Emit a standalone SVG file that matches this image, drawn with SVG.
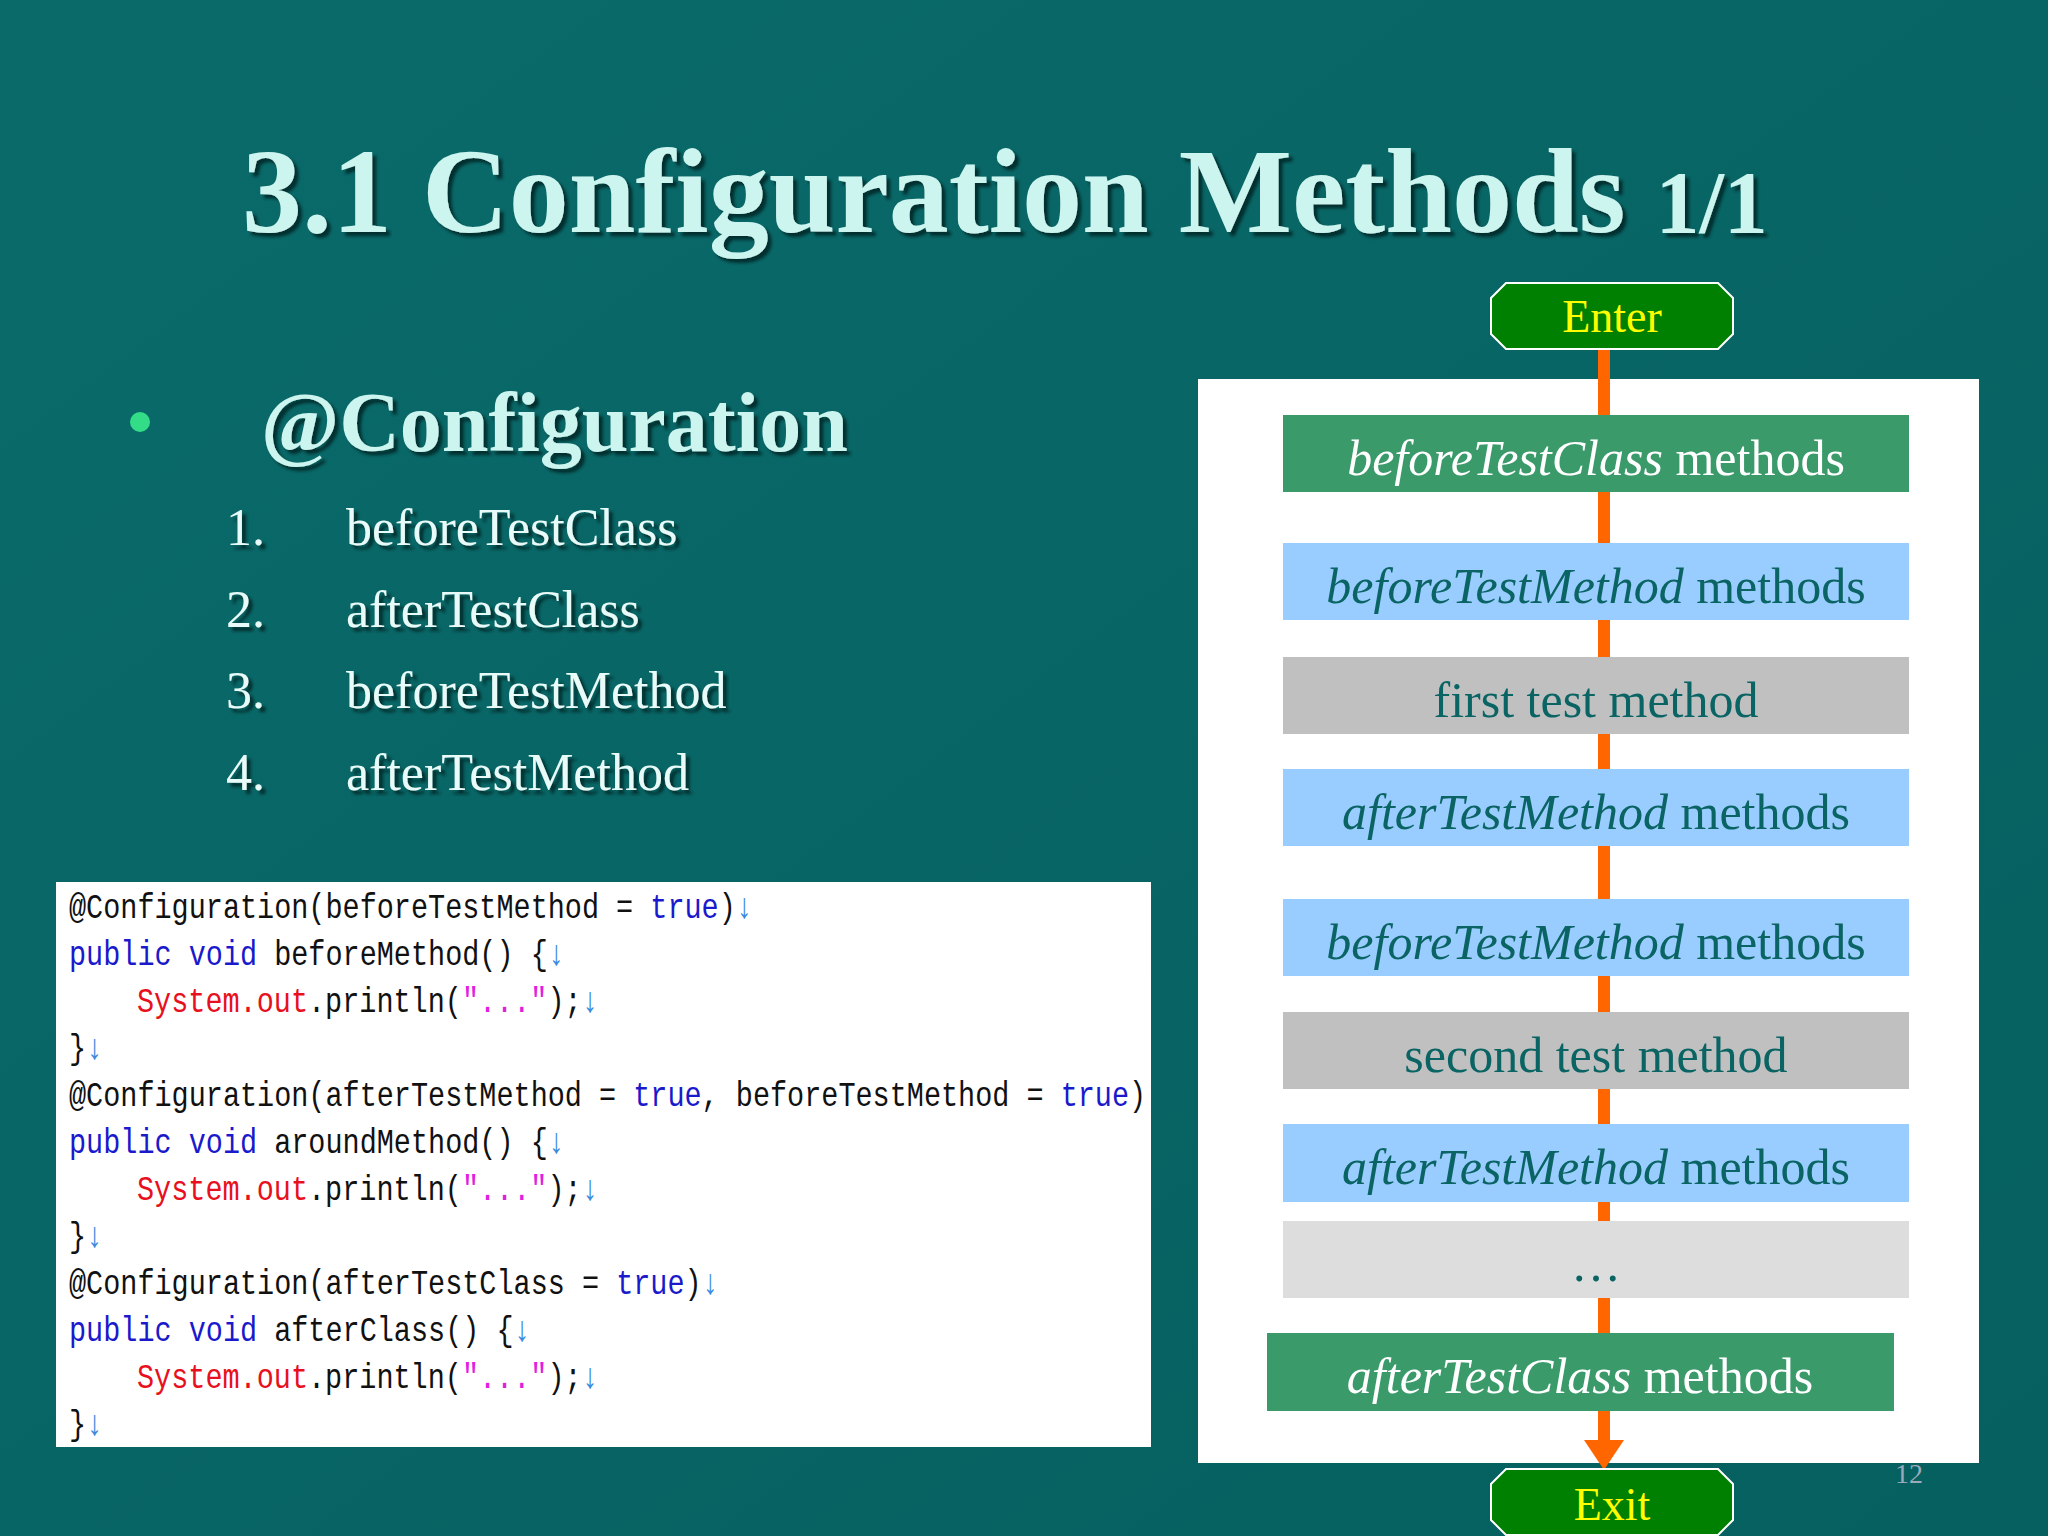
<svg xmlns="http://www.w3.org/2000/svg" width="2048" height="1536" viewBox="0 0 2048 1536">
<defs>
<linearGradient id="bg" x1="0" y1="0" x2="1" y2="1"><stop offset="0" stop-color="#0a6a6a"/><stop offset="1" stop-color="#05605f"/></linearGradient>
<filter id="sh"><feDropShadow dx="4" dy="4" stdDeviation="1.5" flood-color="#022" flood-opacity="0.8"/></filter>
</defs>
<style>
.t{font-family:"Liberation Serif",serif;fill:#cdf5f0}
.li{font-family:"Liberation Serif",serif;font-size:52px;fill:#e8fbf8}
.code{font-family:"Liberation Mono",monospace;font-size:28.5px;fill:#111}
.kw{fill:#1a1acc}.red{fill:#e81020}.mg{fill:#e020e0}.ar{fill:#3a8ae0}
.bx{font-family:"Liberation Serif",serif;font-size:50px;fill:#0b6464;text-anchor:middle}
.wt{fill:#ffffff}
.term{fill:#008000;stroke:#ffffff;stroke-width:2}
.tt{font-family:"Liberation Serif",serif;font-size:46px;fill:#ffff00;text-anchor:middle}
</style>
<rect width="2048" height="1536" fill="url(#bg)"/>
<text class="t" x="242" y="232" font-size="120" font-weight="bold" filter="url(#sh)">3.1 Configuration Methods <tspan font-size="88">1/1</tspan></text>
<circle cx="140" cy="422" r="10" fill="#33dd88"/>
<text class="t" x="261" y="451" font-size="84" font-weight="bold" filter="url(#sh)">@Configuration</text>
<g class="li" filter="url(#sh)">
<text x="226" y="545">1.</text><text x="346" y="545">beforeTestClass</text>
<text x="226" y="627">2.</text><text x="346" y="627">afterTestClass</text>
<text x="226" y="708">3.</text><text x="346" y="708">beforeTestMethod</text>
<text x="226" y="790">4.</text><text x="346" y="790">afterTestMethod</text>
</g>
<g id="code">
<rect x="56" y="882" width="1095" height="565" fill="#ffffff"/>
<text class="code" transform="translate(69,918) scale(1,1.25)">@Configuration(beforeTestMethod = <tspan class="kw">true</tspan>)<tspan class="ar">↓</tspan></text>
<text class="code" transform="translate(69,965) scale(1,1.25)"><tspan class="kw">public void</tspan> beforeMethod() {<tspan class="ar">↓</tspan></text>
<text class="code" transform="translate(137,1012) scale(1,1.25)"><tspan class="red">System.out</tspan>.println(<tspan class="mg">"..."</tspan>);<tspan class="ar">↓</tspan></text>
<text class="code" transform="translate(69,1059) scale(1,1.25)">}<tspan class="ar">↓</tspan></text>
<text class="code" transform="translate(69,1106) scale(1,1.25)">@Configuration(afterTestMethod = <tspan class="kw">true</tspan>, beforeTestMethod = <tspan class="kw">true</tspan>)</text>
<text class="code" transform="translate(69,1153) scale(1,1.25)"><tspan class="kw">public void</tspan> aroundMethod() {<tspan class="ar">↓</tspan></text>
<text class="code" transform="translate(137,1200) scale(1,1.25)"><tspan class="red">System.out</tspan>.println(<tspan class="mg">"..."</tspan>);<tspan class="ar">↓</tspan></text>
<text class="code" transform="translate(69,1247) scale(1,1.25)">}<tspan class="ar">↓</tspan></text>
<text class="code" transform="translate(69,1294) scale(1,1.25)">@Configuration(afterTestClass = <tspan class="kw">true</tspan>)<tspan class="ar">↓</tspan></text>
<text class="code" transform="translate(69,1341) scale(1,1.25)"><tspan class="kw">public void</tspan> afterClass() {<tspan class="ar">↓</tspan></text>
<text class="code" transform="translate(137,1388) scale(1,1.25)"><tspan class="red">System.out</tspan>.println(<tspan class="mg">"..."</tspan>);<tspan class="ar">↓</tspan></text>
<text class="code" transform="translate(69,1435) scale(1,1.25)">}<tspan class="ar">↓</tspan></text>
</g>
<rect x="1198" y="379" width="781" height="1084" fill="#ffffff"/>
<g id="connectors">
<line x1="1604" y1="349" x2="1604" y2="1445" stroke="#ff6600" stroke-width="12"/>
<polygon points="1584,1440 1624,1440 1604,1470" fill="#ff6600"/>
</g>
<g id="enter"><path class="term" d="M1506,283 H1718 L1733,298 V334 L1718,349 H1506 L1491,334 V298 Z"/><text class="tt" x="1612" y="332">Enter</text></g>
<g id="n1"><rect x="1283" y="415" width="626" height="77" fill="#3a9a6a"/><text class="bx wt" x="1596" y="475"><tspan font-style="italic">beforeTestClass</tspan> methods</text></g>
<g id="n2"><rect x="1283" y="543" width="626" height="77" fill="#99ccff"/><text class="bx" x="1596" y="603"><tspan font-style="italic">beforeTestMethod</tspan> methods</text></g>
<g id="n3"><rect x="1283" y="657" width="626" height="77" fill="#c0c0c0"/><text class="bx" x="1596" y="717">first test method</text></g>
<g id="n4"><rect x="1283" y="769" width="626" height="77" fill="#99ccff"/><text class="bx" x="1596" y="829"><tspan font-style="italic">afterTestMethod</tspan> methods</text></g>
<g id="n5"><rect x="1283" y="899" width="626" height="77" fill="#99ccff"/><text class="bx" x="1596" y="959"><tspan font-style="italic">beforeTestMethod</tspan> methods</text></g>
<g id="n6"><rect x="1283" y="1012" width="626" height="77" fill="#c0c0c0"/><text class="bx" x="1596" y="1072">second test method</text></g>
<g id="n7"><rect x="1283" y="1124" width="626" height="78" fill="#99ccff"/><text class="bx" x="1596" y="1184"><tspan font-style="italic">afterTestMethod</tspan> methods</text></g>
<g id="n8"><rect x="1283" y="1221" width="626" height="77" fill="#dddddd"/><text class="bx" x="1596" y="1281">…</text></g>
<g id="n9"><rect x="1267" y="1333" width="627" height="78" fill="#3a9a6a"/><text class="bx wt" x="1580" y="1393"><tspan font-style="italic">afterTestClass</tspan> methods</text></g>
<g id="exit"><path class="term" d="M1506,1469 H1718 L1733,1484 V1520 L1718,1535 H1506 L1491,1520 V1484 Z"/><text class="tt" x="1612" y="1520">Exit</text></g>
<text x="1909" y="1483" font-family="Liberation Serif, serif" font-size="28" fill="#9ab" text-anchor="middle">12</text>
</svg>
